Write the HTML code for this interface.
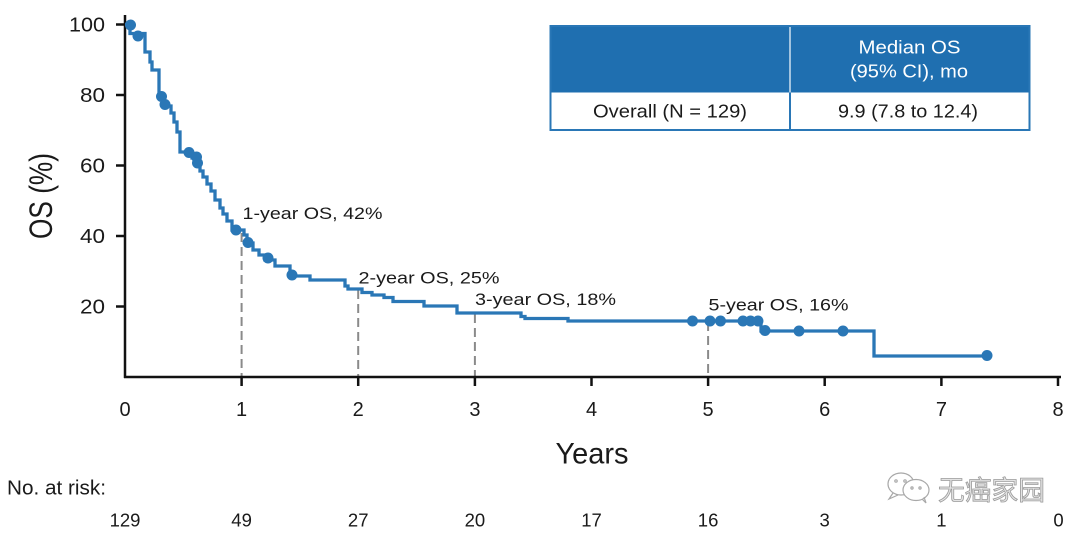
<!DOCTYPE html>
<html>
<head>
<meta charset="utf-8">
<style>
  html, body { margin:0; padding:0; background:#fff; }
  body { width:1080px; height:538px; overflow:hidden; }
  svg { display:block; }
  text { font-family: "Liberation Sans", "Noto Sans CJK SC", sans-serif; fill:#1a1a1a; }
</style>
</head>
<body>
<svg width="1080" height="538" viewBox="0 0 1080 538" xmlns="http://www.w3.org/2000/svg">
  <rect width="1080" height="538" fill="#fff"/>

  <!-- Dashed landmark lines -->
  <g stroke="#8a8a8a" stroke-width="2" stroke-dasharray="9 5" fill="none">
    <line x1="241.6" y1="233" x2="241.6" y2="377"/>
    <line x1="358.2" y1="290" x2="358.2" y2="377"/>
    <line x1="474.9" y1="314" x2="474.9" y2="377"/>
    <line x1="708.1" y1="322" x2="708.1" y2="377"/>
  </g>

  <!-- Axes -->
  <g stroke="#111" stroke-width="2.5" fill="none">
    <line x1="125" y1="15" x2="125" y2="378"/>
    <line x1="124" y1="377" x2="1061" y2="377"/>
    <line x1="116" y1="24.5" x2="125" y2="24.5"/>
    <line x1="116" y1="95" x2="125" y2="95"/>
    <line x1="116" y1="165.5" x2="125" y2="165.5"/>
    <line x1="116" y1="236" x2="125" y2="236"/>
    <line x1="116" y1="306.5" x2="125" y2="306.5"/>
    <line x1="241.6" y1="377" x2="241.6" y2="386"/>
    <line x1="358.2" y1="377" x2="358.2" y2="386"/>
    <line x1="474.9" y1="377" x2="474.9" y2="386"/>
    <line x1="591.5" y1="377" x2="591.5" y2="386"/>
    <line x1="708.1" y1="377" x2="708.1" y2="386"/>
    <line x1="824.7" y1="377" x2="824.7" y2="386"/>
    <line x1="941.4" y1="377" x2="941.4" y2="386"/>
    <line x1="1058" y1="377" x2="1058" y2="386"/>
  </g>

  <!-- Y tick labels -->
  <g font-size="20" text-anchor="end">
    <text x="105" y="31.5" textLength="36" lengthAdjust="spacingAndGlyphs">100</text>
    <text x="105" y="102" textLength="25" lengthAdjust="spacingAndGlyphs">80</text>
    <text x="105" y="172.5" textLength="25" lengthAdjust="spacingAndGlyphs">60</text>
    <text x="105" y="243" textLength="25" lengthAdjust="spacingAndGlyphs">40</text>
    <text x="105" y="313.5" textLength="25" lengthAdjust="spacingAndGlyphs">20</text>
  </g>

  <!-- Y axis title -->
  <text x="52" y="196" font-size="32" text-anchor="middle" transform="rotate(-90 52 196)" textLength="86" lengthAdjust="spacingAndGlyphs">OS (%)</text>

  <!-- X tick labels -->
  <g font-size="20" text-anchor="middle">
    <text x="125" y="416">0</text>
    <text x="241.6" y="416">1</text>
    <text x="358.2" y="416">2</text>
    <text x="474.9" y="416">3</text>
    <text x="591.5" y="416">4</text>
    <text x="708.1" y="416">5</text>
    <text x="824.7" y="416">6</text>
    <text x="941.4" y="416">7</text>
    <text x="1058" y="416">8</text>
  </g>

  <!-- X axis title -->
  <text x="592" y="463.5" font-size="30" text-anchor="middle" textLength="73" lengthAdjust="spacingAndGlyphs">Years</text>

  <!-- KM curve -->
  <path fill="none" stroke="#2a77b6" stroke-width="3.3" stroke-linejoin="miter"
    d="M125,24.5 H130 V33.5 H145 V52 H150 V62 H152 V70 H159 V96 H164 V106 H171 V113 H174 V122 H177 V132 H180 V152 H192 V158 H197 V165 H200 V171 H203 V177 H207 V184 H211 V191 H215 V200 H220 V208 H223 V214 H227 V221 H232 V230 H244 V235 H247 V243 H253 V250 H259 V255 H265 V260 H275 V266 H290 V276 H310 V280 H345 V286 H348 V289 H362 V292.5 H372 V295 H384 V297.5 H393 V301.5 H424 V306 H457 V313 H521 V316.5 H525 V318.5 H568 V321 H761 V331 H874 V356 H987"/>

  <!-- Censor dots -->
  <g fill="#2a77b6">
    <circle cx="130.5" cy="25" r="5.5"/>
    <circle cx="138" cy="36" r="5.5"/>
    <circle cx="161.5" cy="96.5" r="5.5"/>
    <circle cx="165" cy="104.5" r="5.5"/>
    <circle cx="189" cy="152.5" r="5.5"/>
    <circle cx="196.5" cy="157" r="5.5"/>
    <circle cx="197.5" cy="163" r="5.5"/>
    <circle cx="236" cy="230" r="5.5"/>
    <circle cx="248" cy="242.5" r="5.5"/>
    <circle cx="268" cy="258" r="5.5"/>
    <circle cx="292" cy="275" r="5.5"/>
    <circle cx="692.5" cy="321" r="5.5"/>
    <circle cx="710" cy="321" r="5.5"/>
    <circle cx="720.5" cy="321" r="5.5"/>
    <circle cx="743" cy="321" r="5.5"/>
    <circle cx="750.5" cy="321" r="5.5"/>
    <circle cx="758" cy="321" r="5.5"/>
    <circle cx="765" cy="330.5" r="5.5"/>
    <circle cx="799" cy="331" r="5.5"/>
    <circle cx="843" cy="331" r="5.5"/>
    <circle cx="987" cy="355.5" r="5.5"/>
  </g>

  <!-- Landmark labels -->
  <g font-size="17">
    <text x="242.5" y="219" textLength="140" lengthAdjust="spacingAndGlyphs">1-year OS, 42%</text>
    <text x="358.5" y="283.5" textLength="141" lengthAdjust="spacingAndGlyphs">2-year OS, 25%</text>
    <text x="475" y="305" textLength="141" lengthAdjust="spacingAndGlyphs">3-year OS, 18%</text>
    <text x="708.5" y="310.5" textLength="140" lengthAdjust="spacingAndGlyphs">5-year OS, 16%</text>
  </g>

  <!-- Table -->
  <rect x="550.5" y="26" width="479" height="66.5" fill="#1f6fb0"/>
  <rect x="550.5" y="26" width="479" height="104" fill="none" stroke="#2a77b6" stroke-width="2"/>
  <line x1="790" y1="27" x2="790" y2="92.5" stroke="#cfe0ef" stroke-width="1.5"/>
  <line x1="790" y1="92.5" x2="790" y2="130" stroke="#2a77b6" stroke-width="2"/>
  <g font-size="18" text-anchor="middle">
    <text x="909.5" y="53.5" style="fill:#fff" textLength="102" lengthAdjust="spacingAndGlyphs">Median OS</text>
    <text x="909" y="77.5" style="fill:#fff" textLength="118" lengthAdjust="spacingAndGlyphs">(95% CI), mo</text>
    <text x="670" y="117.5" textLength="154" lengthAdjust="spacingAndGlyphs">Overall (N = 129)</text>
    <text x="908" y="117.5" textLength="140" lengthAdjust="spacingAndGlyphs">9.9 (7.8 to 12.4)</text>
  </g>

  <!-- Number at risk -->
  <text x="7" y="494.5" font-size="20" textLength="99" lengthAdjust="spacingAndGlyphs">No. at risk:</text>
  <g font-size="18.5" text-anchor="middle">
    <text x="125" y="526.5">129</text>
    <text x="241.6" y="526.5">49</text>
    <text x="358.2" y="526.5">27</text>
    <text x="474.9" y="526.5">20</text>
    <text x="591.5" y="526.5">17</text>
    <text x="708.1" y="526.5">16</text>
    <text x="824.7" y="526.5">3</text>
    <text x="941.4" y="526.5">1</text>
    <text x="1058.5" y="526.5">0</text>
  </g>

  <!-- Watermark -->
  <g fill="none" stroke="#a8a8a8" stroke-width="1.2">
    <ellipse cx="901" cy="484" rx="13" ry="11"/>
    <path d="M893,493 L889,499 L898,495"/>
    <ellipse cx="916" cy="490" rx="13" ry="10.5" fill="#fff"/>
    <path d="M922,499 L926,503 L924,497"/>
    <circle cx="896" cy="481" r="1.2"/>
    <circle cx="905" cy="481" r="1.2"/>
    <circle cx="912" cy="488" r="1.1"/>
    <circle cx="920" cy="488" r="1.1"/>
  </g>
  <text x="938" y="500" font-size="27" style="fill:#e4e4e4; stroke:#9a9a9a; stroke-width:0.8; font-family:'Noto Sans CJK SC','WenQuanYi Zen Hei',sans-serif" textLength="107" lengthAdjust="spacingAndGlyphs">无癌家园</text>
</svg>
</body>
</html>
